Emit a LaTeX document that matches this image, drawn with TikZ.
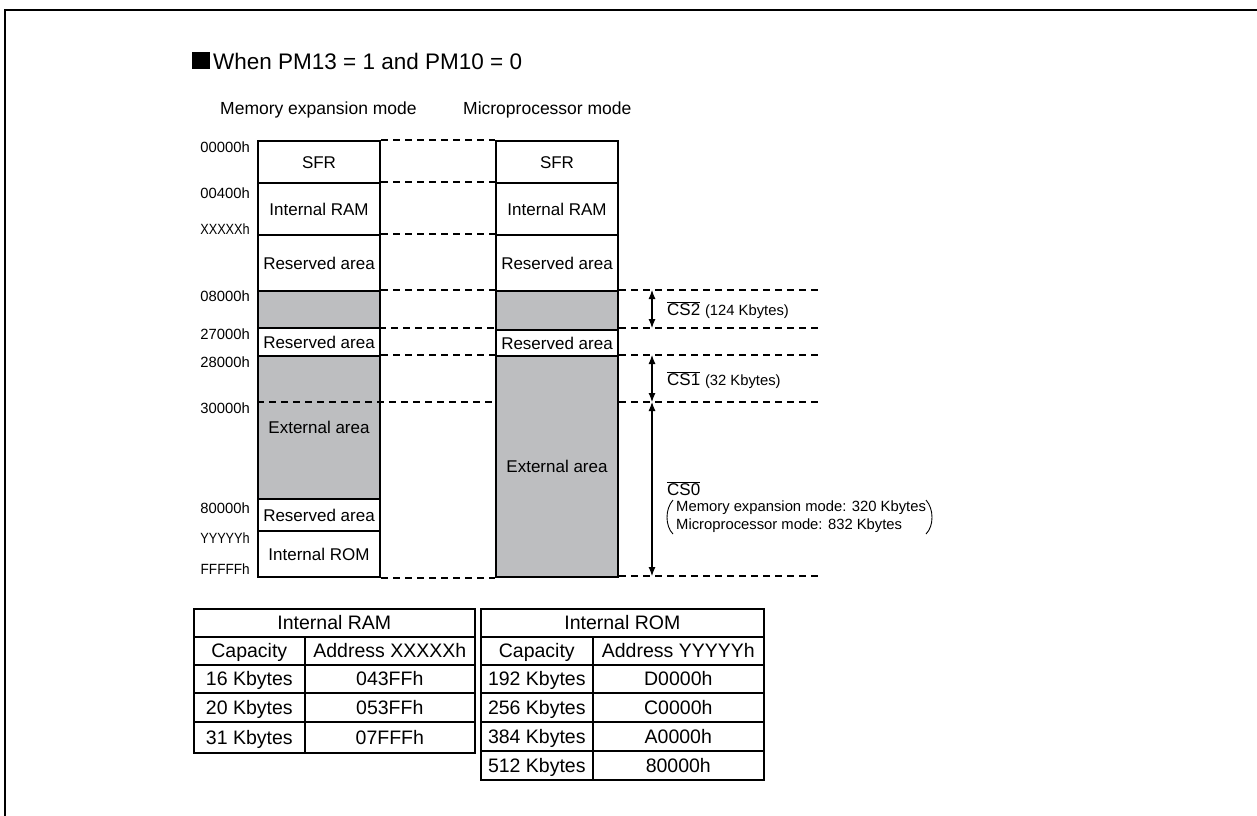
\documentclass[tikz,border=0pt]{standalone}
\usepackage{fontspec}
\setmainfont{Liberation Sans}
\usetikzlibrary{arrows.meta}
\definecolor{memgray}{RGB}{189,190,192}
\newcommand\fsz[1]{\fontsize{#1pt}{#1pt}\selectfont}
\newcommand\ovl[1]{$\overline{\hbox{#1}}$}
\begin{document}
\begin{tikzpicture}[x=1pt,y=-1pt,
  blk/.style={draw, line width=2pt, minimum width=122pt, inner sep=0pt, anchor=north west, font=\fsz{17}, text height=12.2pt, text depth=0pt},
  gblk/.style={blk, fill=memgray},
  addr/.style={anchor=east, inner sep=0pt, font=\fsz{14.8}, text height=10.6pt, text depth=0pt},
  hdr/.style={anchor=base west, inner sep=0pt, font=\fsz{17.5}},
  dline/.style={line width=1.2pt, dash pattern=on 7pt off 5pt},
  dim/.style={line width=1.1pt, {Latex[length=9pt,width=7pt]}-{Latex[length=9pt,width=7pt]}},
  cslab/.style={anchor=west, inner sep=0pt, font=\fsz{17}},
  small/.style={anchor=west, inner sep=0pt, font=\fsz{14.8}},
  cell/.style={draw, line width=1.6pt, inner sep=0pt, anchor=north west, font=\fsz{19.5}, text height=14pt, text depth=0pt}
]
\useasboundingbox (0,0) rectangle (1257,815);
% frame
\draw[line width=2pt] (5,830) -- (5,10) -- (1270,10);
% title
\fill (191.5,51.5) rectangle (209.5,68.5);
\node[anchor=base west, inner sep=0pt, font=\fsz{22.5}] (title) at (213,69) {When PM13 = 1 and PM10 = 0};
% headers
\node[hdr] (hmem) at (220,114) {Memory expansion mode};
\node[hdr] (hmic) at (463,114) {Microprocessor mode};
% left column
\node[blk, minimum height=42pt] (lsfr) at (257,140) {SFR};
\node[blk, minimum height=52pt] (lram) at (257,182) {Internal RAM};
\node[blk, minimum height=56pt] (lres1) at (257,234) {Reserved area};
\node[gblk, minimum height=37pt] (lcs2) at (257,290) {};
\node[blk, minimum height=28pt] (lres2) at (257,327) {Reserved area};
\node[gblk, minimum height=143pt] (lext) at (257,355) {External area};
\node[blk, minimum height=32pt] (lres3) at (257,498) {Reserved area};
\node[blk, minimum height=46pt] (lrom) at (257,530) {Internal ROM};
% right column
\node[blk, minimum height=42pt] (rsfr) at (495,140) {SFR};
\node[blk, minimum height=52pt] (rram) at (495,182) {Internal RAM};
\node[blk, minimum height=56pt] (rres1) at (495,234) {Reserved area};
\node[gblk, minimum height=39pt] (rcs2) at (495,290) {};
\node[blk, minimum height=26pt] (rres2) at (495,329) {Reserved area};
\node[gblk, minimum height=221pt] (rext) at (495,355) {External area};
% addresses
\node[addr] (a0) at (250,147) {00000h};
\node[addr] (a1) at (250,193) {00400h};
\node[addr] (a2) at (250,229) {\scalebox{0.86}[1]{XXXXXh}};
\node[addr] (a3) at (250,296) {08000h};
\node[addr] (a4) at (250,334) {27000h};
\node[addr] (a5) at (250,362) {28000h};
\node[addr] (a6) at (250,408) {30000h};
\node[addr] (a7) at (250,508) {80000h};
\node[addr] (a8) at (250,538) {\scalebox{0.86}[1]{YYYYYh}};
\node[addr] (a9) at (250,569) {\scalebox{0.92}[1]{FFFFFh}};
% dashed lines between columns
\coordinate (b27l) at (379,328);
\coordinate (b27r) at (495,328);
\draw[dline] (lsfr.north east) -- (rsfr.north west);
\draw[dline] (lram.north east) -- (rram.north west);
\draw[dline] (lres1.north east) -- (rres1.north west);
\draw[dline] (lcs2.north east) -- (rcs2.north west);
\draw[dline] (b27l) -- (b27r);
\draw[dline] (lext.north east) -- (rext.north west);
\draw[dline] (lrom.south east) -- (rext.south west);
\coordinate (l30) at (257,402);
\coordinate (r30) at (495,402);
\draw[dline] (l30) -- (r30);
% right dashed lines
\coordinate (e1a) at (619,290); \coordinate (e1b) at (822,290);
\coordinate (e2a) at (619,328); \coordinate (e2b) at (822,328);
\coordinate (e3a) at (619,355); \coordinate (e3b) at (822,355);
\coordinate (e4a) at (619,402); \coordinate (e4b) at (822,402);
\coordinate (e5a) at (619,576); \coordinate (e5b) at (822,576);
\draw[dline] (e1a) -- (e1b);
\draw[dline] (e2a) -- (e2b);
\draw[dline] (e3a) -- (e3b);
\draw[dline] (e4a) -- (e4b);
\draw[dline] (e5a) -- (e5b);
% dimension arrows
\coordinate (d1) at (652,290); \coordinate (d2) at (652,328);
\coordinate (d3) at (652,355); \coordinate (d4) at (652,402);
\coordinate (d5) at (652,576);
\draw[dim] (d1) -- (d2);
\draw[dim] (d3) -- (d4);
\draw[dim] (d4) -- (d5);
% CS labels
\node[cslab] (cs2) at (667,310) {\ovl{CS2}\ {\fsz{14.8}(124 Kbytes)}};
\node[cslab] (cs1) at (667,380) {\ovl{CS1}\ {\fsz{14.8}(32 Kbytes)}};
\node[cslab] (cs0) at (667,489) {\ovl{CS0}};
\node[small] (m1) at (676,508) {Memory expansion mode: 320 Kbytes};
\node[small] (m2) at (676,526) {Microprocessor mode: 832 Kbytes};
\draw[line width=0.9pt] (673,500) .. controls (665,509) and (665,526) .. (673,534);
\draw[line width=0.9pt] (926,500) .. controls (934,509) and (934,526) .. (926,534);
% left table
\node[cell, minimum width=281pt, minimum height=28pt] (t1h) at (193,608) {Internal RAM};
\node[cell, minimum width=111pt, minimum height=28pt] (t1a) at (193,636) {Capacity};
\node[cell, minimum width=170pt, minimum height=28pt] (t1b) at (304,636) {Address XXXXXh};
\node[cell, minimum width=111pt, minimum height=28pt] (t1c) at (193,664) {16 Kbytes};
\node[cell, minimum width=170pt, minimum height=28pt] (t1d) at (304,664) {043FFh};
\node[cell, minimum width=111pt, minimum height=29pt] (t1e) at (193,692) {20 Kbytes};
\node[cell, minimum width=170pt, minimum height=29pt] (t1f) at (304,692) {053FFh};
\node[cell, minimum width=111pt, minimum height=31pt] (t1g) at (193,721) {31 Kbytes};
\node[cell, minimum width=170pt, minimum height=31pt] (t1i) at (304,721) {07FFFh};
% right table
\node[cell, minimum width=283pt, minimum height=28pt] (t2h) at (480,608) {Internal ROM};
\node[cell, minimum width=112pt, minimum height=28pt] (t2a) at (480,636) {Capacity};
\node[cell, minimum width=171pt, minimum height=28pt] (t2b) at (592,636) {Address YYYYYh};
\node[cell, minimum width=112pt, minimum height=28pt] (t2c) at (480,664) {192 Kbytes};
\node[cell, minimum width=171pt, minimum height=28pt] (t2d) at (592,664) {D0000h};
\node[cell, minimum width=112pt, minimum height=29pt] (t2e) at (480,692) {256 Kbytes};
\node[cell, minimum width=171pt, minimum height=29pt] (t2f) at (592,692) {C0000h};
\node[cell, minimum width=112pt, minimum height=29pt] (t2g) at (480,721) {384 Kbytes};
\node[cell, minimum width=171pt, minimum height=29pt] (t2i) at (592,721) {A0000h};
\node[cell, minimum width=112pt, minimum height=29pt] (t2j) at (480,750) {512 Kbytes};
\node[cell, minimum width=171pt, minimum height=29pt] (t2k) at (592,750) {80000h};
\end{tikzpicture}
\end{document}
